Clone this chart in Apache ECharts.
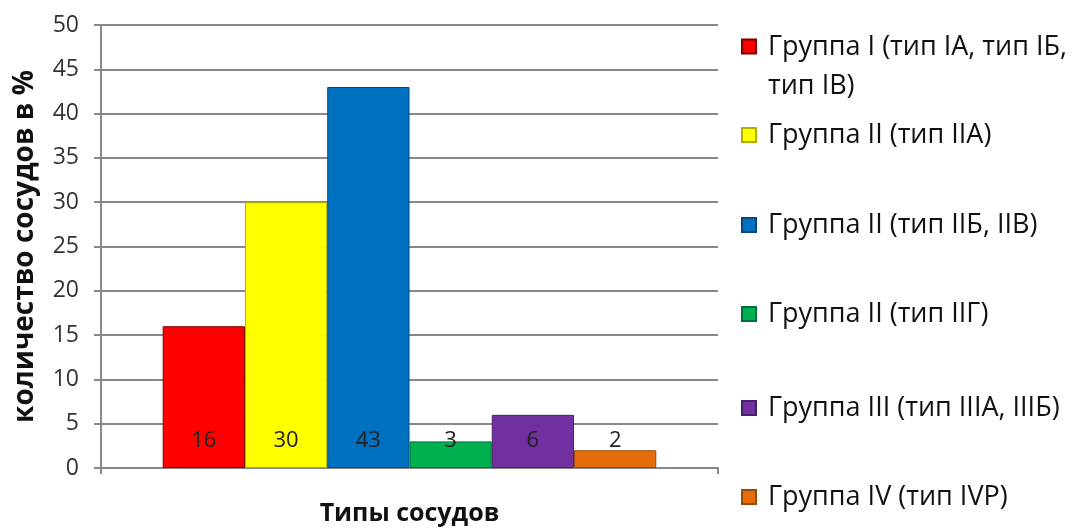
<!DOCTYPE html>
<html><head><meta charset="utf-8">
<script src="https://cdn.jsdelivr.net/npm/echarts@6/dist/echarts.min.js"></script>
<style>html,body{margin:0;padding:0;background:#fff;overflow:hidden}#c{width:1076px;height:530px}</style>
</head><body><div id="c"></div>
<script>
const categories = [''];
const seriesNames = [
  'Группа I (тип IA, тип IБ, тип IB)',
  'Группа II (тип IIA)',
  'Группа II (тип IIБ, IIB)',
  'Группа II (тип IIГ)',
  'Группа III (тип IIIA, IIIБ)',
  'Группа IV (тип IVP)'
];
const seriesValues = [16, 30, 43, 3, 6, 2];
const legendLabels = [
  'Группа I (тип IA, тип IБ,\nтип IB)',
  'Группа II (тип IIA)',
  'Группа II (тип IIБ, IIB)',
  'Группа II (тип IIГ)',
  'Группа III (тип IIIA, IIIБ)',
  'Группа IV (тип IVP)'
];
const colors = ['#FF0000', '#FFFF00', '#0070C0', '#00B050', '#7030A0', '#E46C0A'];
const borders = ['#7a0000', '#b0b000', '#004a80', '#00703a', '#4a1f6a', '#9a4a08'];
const legendCenters = [47, 135, 225, 314, 408, 497];

const FONT = '"Open Sans", "Noto Sans", sans-serif';
const chart = echarts.init(document.getElementById('c'));

const legends = seriesNames.map((n, i) => {
  const first = i === 0;
  return {
    data: [n],
    orient: 'vertical',
    left: 736,
    top: legendCenters[i] - 24.5,
    itemWidth: 14,
    itemHeight: first ? 54 : 14,
    icon: first ? 'path://M0,0h14v14h-14z M0,54' : 'rect',
    selectedMode: false,
    formatter: () => legendLabels[i],
    textStyle: { fontFamily: FONT, fontSize: 27, color: '#111', lineHeight: 39, padding: [0, 0, 0, 7] }
  };
});

chart.setOption({
  animation: false,
  color: colors,
  grid: { left: 101, top: 25, right: 358, bottom: 62, containLabel: false, outerBoundsMode: 'none' },
  legend: legends,
  xAxis: {
    type: 'category',
    data: categories,
    name: 'Типы сосудов',
    nameLocation: 'middle',
    nameGap: 33,
    nameTextStyle: { fontFamily: FONT, fontSize: 25, fontWeight: 'bold', color: '#111' },
    axisLine: { lineStyle: { color: '#888', width: 2 } },
    axisTick: { show: true, length: 6, lineStyle: { color: '#888', width: 2 } },
    axisLabel: { show: false }
  },
  yAxis: {
    type: 'value',
    min: 0, max: 50, interval: 5,
    name: 'количество сосудов в %',
    nameLocation: 'middle',
    nameGap: 62,
    nameTextStyle: { fontFamily: FONT, fontSize: 28, fontWeight: 'bold', color: '#111' },
    axisLine: { show: true, lineStyle: { color: '#888', width: 2 } },
    axisTick: { show: true, length: 7, lineStyle: { color: '#888', width: 2 } },
    axisLabel: { fontFamily: FONT, fontSize: 23, color: '#333', margin: 22 },
    splitLine: { lineStyle: { color: '#888', width: 2 } }
  },
  series: seriesNames.map((n, i) => ({
    name: n,
    type: 'bar',
    data: [seriesValues[i]],
    barGap: '0%',
    barCategoryGap: '20%',
    itemStyle: { color: colors[i], borderColor: borders[i], borderWidth: 1 },
    label: {
      show: true,
      position: 'insideBottom',
      distance: 16,
      fontFamily: FONT,
      fontSize: 22,
      color: '#222'
    }
  }))
});
</script></body></html>
